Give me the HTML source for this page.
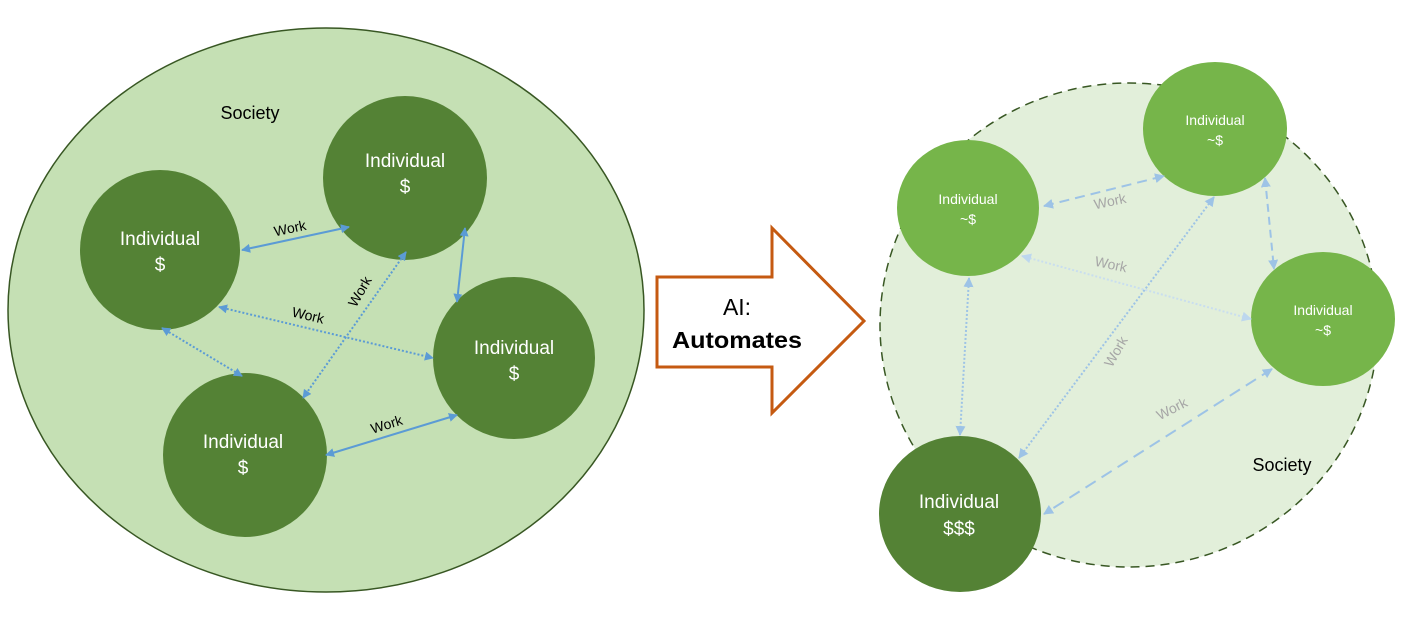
<!DOCTYPE html>
<html><head><meta charset="utf-8"><style>
html,body{margin:0;padding:0;background:#fff;}
svg{display:block;font-family:"Liberation Sans",sans-serif;}
</style></head><body>
<svg width="1428" height="620" viewBox="0 0 1428 620" xmlns="http://www.w3.org/2000/svg">
<defs>
<marker id="a1" viewBox="0 0 10 10" refX="9" refY="5" markerWidth="9" markerHeight="9" markerUnits="userSpaceOnUse" orient="auto-start-reverse"><path d="M0,0 L10,5 L0,10 z" fill="#5b9bd5"/></marker>
<marker id="a2" viewBox="0 0 10 10" refX="9" refY="5" markerWidth="10" markerHeight="10" markerUnits="userSpaceOnUse" orient="auto-start-reverse"><path d="M0,0 L10,5 L0,10 z" fill="#9dc3e6"/></marker>
<marker id="a3" viewBox="0 0 10 10" refX="9" refY="5" markerWidth="10" markerHeight="10" markerUnits="userSpaceOnUse" orient="auto-start-reverse"><path d="M0,0 L10,5 L0,10 z" fill="#bdd7ee"/></marker>
</defs>

<!-- Left society -->
<ellipse cx="326" cy="310" rx="318" ry="282" fill="#c5e0b4" stroke="#385723" stroke-width="1.5"/>
<text x="250" y="119" font-size="18" text-anchor="middle" fill="#000">Society</text>

<g fill="#548235">
<circle cx="405" cy="178" r="82"/>
<circle cx="160" cy="250" r="80"/>
<circle cx="514" cy="358" r="81"/>
<circle cx="245" cy="455" r="82"/>
</g>
<g stroke="#5b9bd5" stroke-width="2" fill="none">
<line x1="242" y1="250" x2="349" y2="227" marker-start="url(#a1)" marker-end="url(#a1)"/>
<line x1="465" y1="228" x2="457" y2="302" marker-start="url(#a1)" marker-end="url(#a1)"/>
<line x1="219" y1="307" x2="433" y2="358" stroke-dasharray="2 2" marker-start="url(#a1)" marker-end="url(#a1)"/>
<line x1="406" y1="252" x2="303" y2="398" stroke-dasharray="2 2" marker-start="url(#a1)" marker-end="url(#a1)"/>
<line x1="162" y1="328" x2="242" y2="376" stroke-dasharray="2 2" marker-start="url(#a1)" marker-end="url(#a1)"/>
<line x1="326" y1="455" x2="457" y2="415" marker-start="url(#a1)" marker-end="url(#a1)"/>
</g>
<g font-size="14" fill="#000" text-anchor="middle">
<text transform="translate(291,233) rotate(-12)">Work</text>
<text transform="translate(307,320) rotate(13)">Work</text>
<text transform="translate(364,294) rotate(-60)">Work</text>
<text transform="translate(388,429) rotate(-17)">Work</text>
</g>
<g fill="#fff" font-size="19" text-anchor="middle">
<text x="405" y="167">Individual</text><text x="405" y="193">$</text>
<text x="160" y="245">Individual</text><text x="160" y="271">$</text>
<text x="514" y="354">Individual</text><text x="514" y="380">$</text>
<text x="243" y="448">Individual</text><text x="243" y="474">$</text>
</g>

<!-- Big arrow -->
<polygon points="657,277 772,277 772,228 864,321 772,413 772,367 657,367" fill="#fff" stroke="#c55a11" stroke-width="3"/>
<text x="737" y="315" font-size="23" text-anchor="middle" fill="#000">AI:</text>
<text x="737" y="348" font-size="23" font-weight="bold" text-anchor="middle" fill="#000" textLength="130" lengthAdjust="spacingAndGlyphs">Automates</text>

<!-- Right society -->
<ellipse cx="1129" cy="325" rx="249" ry="242" fill="#e2efda" stroke="#385723" stroke-width="1.5" stroke-dasharray="9 6"/>
<text x="1282" y="471" font-size="18" text-anchor="middle" fill="#000">Society</text>

<g fill="#76b54a">
<ellipse cx="968" cy="208" rx="71" ry="68"/>
<ellipse cx="1215" cy="129" rx="72" ry="67"/>
<ellipse cx="1323" cy="319" rx="72" ry="67"/>
</g>
<ellipse cx="960" cy="514" rx="81" ry="78" fill="#548235"/>

<g stroke-width="2" fill="none">
<line x1="1044" y1="206" x2="1164" y2="176" stroke="#9dc3e6" stroke-dasharray="10 6" marker-start="url(#a2)" marker-end="url(#a2)"/>
<line x1="1022" y1="256" x2="1251" y2="319" stroke="#c9deef" stroke-dasharray="2 2" marker-start="url(#a3)" marker-end="url(#a3)"/>
<line x1="1265" y1="178" x2="1274" y2="269" stroke="#9dc3e6" stroke-dasharray="8 5" marker-start="url(#a2)" marker-end="url(#a2)"/>
<line x1="1214" y1="197" x2="1019" y2="458" stroke="#9dc3e6" stroke-dasharray="2 2" marker-start="url(#a2)" marker-end="url(#a2)"/>
<line x1="969" y1="278" x2="960" y2="435" stroke="#9dc3e6" stroke-dasharray="2 2" marker-start="url(#a2)" marker-end="url(#a2)"/>
<line x1="1272" y1="369" x2="1044" y2="514" stroke="#9dc3e6" stroke-dasharray="12 7" marker-start="url(#a2)" marker-end="url(#a2)"/>
</g>
<g font-size="14" fill="#a6a6a6" text-anchor="middle">
<text transform="translate(1111,206) rotate(-12)">Work</text>
<text transform="translate(1110,269) rotate(12)">Work</text>
<text transform="translate(1120,354) rotate(-60)">Work</text>
<text transform="translate(1174,413) rotate(-27)">Work</text>
</g>

<g fill="#fff" font-size="14" text-anchor="middle">
<text x="968" y="204">Individual</text><text x="968" y="224">~$</text>
<text x="1215" y="125">Individual</text><text x="1215" y="145">~$</text>
<text x="1323" y="315">Individual</text><text x="1323" y="335">~$</text>
</g>
<g fill="#fff" font-size="19" text-anchor="middle">
<text x="959" y="508">Individual</text><text x="959" y="535">$$$</text>
</g>
</svg>
</body></html>
